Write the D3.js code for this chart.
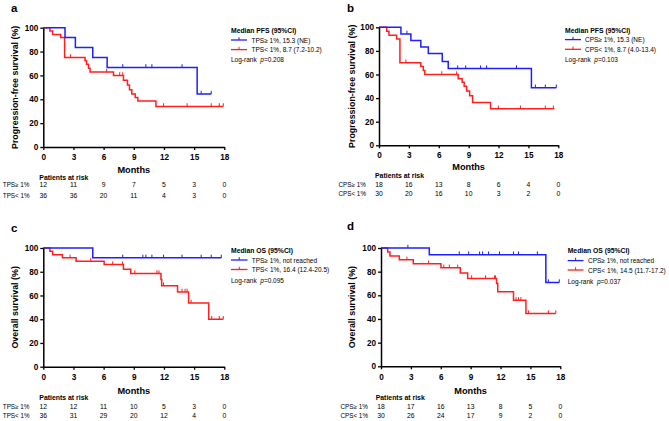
<!DOCTYPE html>
<html><head><meta charset="utf-8">
<script src="https://cdn.jsdelivr.net/npm/d3@7"></script>
<style>
body{margin:0;background:#fff;}
text{font-family:Arial,"Liberation Sans",sans-serif;}
</style></head>
<body><svg id="chart" width="669" height="421"></svg>
<script>
// ---------- DATA ----------
const monthTicks = [0, 3, 6, 9, 12, 15, 18];
const survTicks = [0, 20, 40, 60, 80, 100];

// Panel a: PFS by TPS
const aPosTime = [0, 2.16, 3.19, 4.92, 6.35, 15.3];
const aPosSurv = [100, 91.7, 83.3, 75.0, 66.7, 44.4];
const aPosCensor = [7.9, 10.2, 10.8, 13.8, 15.7, 16.7];
const aPosEnd = 16.7;
const aNegTime = [0, 0.66, 0.93, 1.73, 2.12, 4.15, 4.3, 4.5, 4.65, 6.98, 7.97, 8.37, 8.57, 8.8, 9.14, 9.4, 11.2];
const aNegSurv = [100, 97.2, 94.4, 91.7, 75.0, 72.2, 69.4, 66.0, 62.8, 60.0, 56.0, 52.0, 48.0, 44.5, 41.5, 38.5, 34.0];
const aNegCensor = [2.7, 6.3, 7.6, 7.9, 11.96, 14.3, 16.7, 17.5, 17.9];
const aNegEnd = 17.9;
const aRiskPos = [12, 11, 9, 7, 5, 3, 0];
const aRiskNeg = [36, 36, 20, 11, 4, 3, 0];

// Panel b: PFS by CPS
const bPosTime = [0, 2.2, 3.2, 4.2, 4.95, 6.35, 6.95, 15.3];
const bPosSurv = [100, 94.4, 88.9, 83.3, 77.8, 71.1, 65.0, 48.8];
const bPosCensor = [2.8, 7.9, 8.7, 10.2, 10.8, 13.8, 15.7, 16.7, 17.8];
const bPosEnd = 17.8;
const bNegTime = [0, 0.77, 1.0, 1.77, 2.1, 4.2, 4.45, 4.6, 7.95, 8.35, 8.55, 8.8, 9.1, 9.4, 11.2];
const bNegSurv = [100, 96.7, 93.3, 90.0, 70.0, 66.7, 63.3, 60.0, 56.5, 53.5, 50.0, 46.0, 42.0, 36.2, 31.0];
const bNegCensor = [2.7, 6.3, 7.8, 11.98, 14.2, 16.7, 17.5];
const bNegEnd = 17.6;
const bRiskPos = [18, 16, 13, 8, 6, 4, 0];
const bRiskNeg = [30, 20, 16, 10, 3, 2, 0];

// Panel c: OS by TPS
const cPosTime = [0, 4.92];
const cPosSurv = [100, 91.7];
const cPosCensor = [7.9, 9.9, 10.2, 10.8, 11.96, 13.8, 15.7, 16.7, 17.7];
const cPosEnd = 17.7;
const cNegTime = [0, 0.66, 0.93, 1.9, 3.26, 6.05, 7.97, 8.7, 11.7, 11.77, 13.35, 14.45, 16.45];
const cNegSurv = [100, 97.2, 94.4, 91.7, 88.9, 86.0, 82.0, 78.5, 73.5, 68.3, 63.0, 53.7, 40.0];
const cNegCensor = [2.66, 4.72, 6.9, 7.87, 9.1, 11.3, 11.5, 11.95, 13.8, 14.1, 14.3, 14.7, 16.75, 17.5, 17.9];
const cNegEnd = 17.9;
const cRiskPos = [12, 12, 11, 10, 5, 3, 0];
const cRiskNeg = [36, 31, 29, 20, 12, 4, 0];

// Panel d: OS by CPS
const dPosTime = [0, 4.85, 16.55];
const dPosSurv = [100, 94.4, 70.8];
const dPosCensor = [2.7, 7.86, 8.8, 9.9, 10.2, 10.8, 11.9, 13.3, 13.8, 15.7, 16.8, 17.9];
const dPosEnd = 17.9;
const dNegTime = [0, 0.67, 0.9, 1.84, 3.24, 6.02, 7.96, 8.7, 11.6, 11.72, 13.3, 14.55];
const dNegSurv = [100, 96.7, 93.3, 90.0, 86.7, 83.3, 78.9, 74.2, 70.0, 63.0, 55.8, 44.6];
const dNegCensor = [2.6, 4.78, 6.3, 6.86, 7.7, 9.1, 10.5, 11.4, 11.5, 13.55, 13.8, 14.05, 14.8, 16.8, 17.55];
const dNegEnd = 17.55;
const dRiskPos = [18, 17, 16, 13, 8, 5, 0];
const dRiskNeg = [30, 26, 24, 17, 9, 2, 0];

// ---------- LAYOUT / DRAW ----------
const BLUE = "#1f1fff", RED = "#ff1f1f";
const svg = d3.select("#chart");
svg.append("rect").attr("width", 669).attr("height", 421).attr("fill", "#fff");

const panels = [
  {letter: "a", lx: 11, ly: 12, x0: 43.3, x1: 224.3, yT: 27.7, yB: 147,
   ylab: "Progression-free survival (%)", ylx: 15, parX: 39.3,
   tickY: 160.2, monthsY: 172.7, parY: 180.2, r1: 186.8, r2: 197.6,
   leg: {x: 231, tY: 30.7, l1: 40, l2: 49.6, lr: 59.3, lineEnd: 247, tx: 251.5},
   title: "Median PFS (95%CI)", pos: "TPS\u2265 1%", neg: "TPS< 1%",
   posLeg: "TPS\u2265 1%, 15.3 (NE)", negLeg: "TPS< 1%, 8.7 (7.2-10.2)", p: "p=0.208",
   P: [aPosTime, aPosSurv, aPosCensor, aPosEnd], N: [aNegTime, aNegSurv, aNegCensor, aNegEnd],
   rp: aRiskPos, rn: aRiskNeg},
  {letter: "b", lx: 347, ly: 12, x0: 379, x1: 558.3, yT: 27.3, yB: 145.3,
   ylab: "Progression-free survival (%)", ylx: 351.5, parX: 375,
   tickY: 158.3, monthsY: 170.4, parY: 178.3, r1: 186.6, r2: 196,
   leg: {x: 565, tY: 30.3, l1: 39.6, l2: 49.3, lr: 58.6, lineEnd: 581, tx: 585},
   title: "Median PFS (95%CI)", pos: "CPS\u2265 1%", neg: "CPS< 1%",
   posLeg: "CPS\u2265 1%, 15.3 (NE)", negLeg: "CPS< 1%, 8.7 (4.0-13.4)", p: "p=0.103",
   P: [bPosTime, bPosSurv, bPosCensor, bPosEnd], N: [bNegTime, bNegSurv, bNegCensor, bNegEnd],
   rp: bRiskPos, rn: bRiskNeg},
  {letter: "c", lx: 11, ly: 231.5, x0: 43.3, x1: 224.3, yT: 248, yB: 366.7,
   ylab: "Overall survival (%)", ylx: 15, parX: 39.3,
   tickY: 379.8, monthsY: 393.5, parY: 400.4, r1: 409.2, r2: 418.3,
   leg: {x: 231, tY: 250.7, l1: 260, l2: 269.5, lr: 280, lineEnd: 247.5, tx: 251.7},
   title: "Median OS (95%CI)", pos: "TPS\u2265 1%", neg: "TPS< 1%",
   posLeg: "TPS\u2265 1%, not reached", negLeg: "TPS< 1%, 16.4 (12.4-20.5)", p: "p=0.095",
   P: [cPosTime, cPosSurv, cPosCensor, cPosEnd], N: [cNegTime, cNegSurv, cNegCensor, cNegEnd],
   rp: cRiskPos, rn: cRiskNeg},
  {letter: "d", lx: 347, ly: 230, x0: 381, x1: 560.3, yT: 248, yB: 366.3,
   ylab: "Overall survival (%)", ylx: 351.5, parX: 375.7,
   tickY: 379.8, monthsY: 393.5, parY: 400.4, r1: 409.2, r2: 418.3,
   leg: {x: 567.7, tY: 250.7, l1: 260.6, l2: 270, lr: 280.6, lineEnd: 583.5, tx: 588},
   title: "Median OS (95%CI)", pos: "CPS\u2265 1%", neg: "CPS< 1%",
   posLeg: "CPS\u2265 1%, not reached", negLeg: "CPS< 1%, 14.5 (11.7-17.2)", p: "p=0.037",
   P: [dPosTime, dPosSurv, dPosCensor, dPosEnd], N: [dNegTime, dNegSurv, dNegCensor, dNegEnd],
   rp: dRiskPos, rn: dRiskNeg}
];

function survAt(times, surv, t) {
  let s = surv[0];
  for (let i = 0; i < times.length; i++) if (times[i] <= t) s = surv[i];
  return s;
}

panels.forEach(p => {
  const g = svg.append("g");
  const x = d3.scaleLinear().domain([0, 18]).range([p.x0, p.x1]);
  const y = d3.scaleLinear().domain([0, 100]).range([p.yB, p.yT]);

  g.append("text").attr("x", p.lx).attr("y", p.ly).attr("font-size", 11.5)
    .attr("font-weight", "bold").text(p.letter);

  // curves
  const line = d3.line().x(d => x(d[0])).y(d => y(d[1])).curve(d3.curveStepAfter);
  [[p.N, RED], [p.P, BLUE]].forEach(([s, col]) => {
    const [tt, ss, cc, end] = s;
    const pts = tt.map((t, i) => [t, ss[i]]);
    pts.push([end, ss[ss.length - 1]]);
    g.append("path").attr("d", line(pts)).attr("fill", "none")
      .attr("stroke", col).attr("stroke-width", 1.5);
    g.selectAll(null).data(cc).enter().append("line")
      .attr("x1", d => x(d)).attr("x2", d => x(d))
      .attr("y1", d => y(survAt(tt, ss, d)))
      .attr("y2", d => y(survAt(tt, ss, d)) - 3.2)
      .attr("stroke", col).attr("stroke-width", 1);
  });

  // axes
  const xa = g.append("g").attr("transform", `translate(0,${p.yB})`)
    .call(d3.axisBottom(x).tickValues(monthTicks).tickSize(3).tickSizeOuter(0).tickPadding(2));
  const ya = g.append("g").attr("transform", `translate(${p.x0},0)`)
    .call(d3.axisLeft(y).tickValues(survTicks).tickSize(3).tickSizeOuter(0).tickPadding(2));
  [xa, ya].forEach(a => {
    a.select(".domain").attr("stroke", "#000").attr("stroke-width", 1.5);
    a.selectAll(".tick line").attr("stroke", "#000").attr("stroke-width", 1.3);
    a.selectAll(".tick text").attr("font-size", 8.2).attr("font-weight", "bold")
      .attr("font-family", "Arial, 'Liberation Sans', sans-serif").attr("fill", "#000");
  });
  xa.selectAll(".tick text").attr("dy", null).attr("y", p.tickY - p.yB);

  // axis titles
  g.append("text").attr("x", (p.x0 + p.x1) / 2).attr("y", p.monthsY)
    .attr("text-anchor", "middle").attr("font-size", 9.2).attr("font-weight", "bold").text("Months");
  g.append("text").attr("transform", `translate(${p.ylx},${(p.yT + p.yB) / 2}) rotate(-90)`)
    .attr("text-anchor", "middle").attr("dominant-baseline", "central")
    .attr("font-size", 8.9).attr("font-weight", "bold").text(p.ylab);

  // patients at risk
  g.append("text").attr("x", p.parX).attr("y", p.parY)
    .attr("font-size", 6.9).attr("font-weight", "bold").text("Patients at risk");
  [[p.pos, p.rp, p.r1], [p.neg, p.rn, p.r2]].forEach(([lab, vals, yy]) => {
    g.append("text").attr("x", p.x0 - 40.5).attr("y", yy).attr("font-size", 6.3).text(lab);
    g.selectAll(null).data(vals).enter().append("text")
      .attr("x", (d, i) => x(monthTicks[i])).attr("y", yy)
      .attr("text-anchor", "middle").attr("font-size", 6.8).text(d => d);
  });

  // legend
  const L = p.leg;
  g.append("text").attr("x", L.x).attr("y", L.tY).attr("dominant-baseline", "central")
    .attr("font-size", 6.8).attr("font-weight", "bold").text(p.title);
  [[BLUE, p.posLeg, L.l1], [RED, p.negLeg, L.l2]].forEach(([col, txt, yy]) => {
    g.append("line").attr("x1", L.x).attr("x2", L.lineEnd).attr("y1", yy).attr("y2", yy)
      .attr("stroke", col).attr("stroke-width", 1.3);
    const mx = (L.x + L.lineEnd) / 2;
    g.append("line").attr("x1", mx).attr("x2", mx).attr("y1", yy).attr("y2", yy - 2.8)
      .attr("stroke", col).attr("stroke-width", 1);
    g.append("text").attr("x", L.tx).attr("y", yy).attr("dominant-baseline", "central")
      .attr("font-size", 6.5).text(txt);
  });
  const lr = g.append("text").attr("x", L.x).attr("y", L.lr).attr("dominant-baseline", "central")
    .attr("font-size", 6.5);
  lr.append("tspan").text("Log-rank");
  lr.append("tspan").attr("dx", 3.6).attr("font-style", "italic").text(p.p.slice(0, 1));
  lr.append("tspan").text(p.p.slice(1));
});
</script></body></html>
